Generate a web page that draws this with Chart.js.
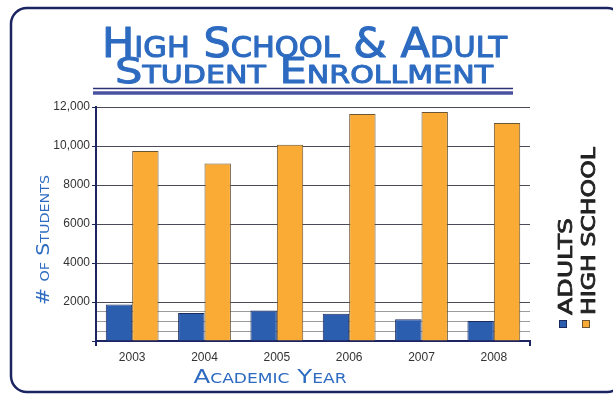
<!DOCTYPE html>
<html>
<head>
<meta charset="utf-8">
<script src="https://cdn.jsdelivr.net/npm/chart.js@4.4.1/dist/chart.umd.min.js"></script>
<style>
  html, body { margin: 0; padding: 0; background: #ffffff; }
  canvas { display: block; }
</style>
</head>
<body>
<canvas id="enrollChart" width="613" height="396"></canvas>
<script>
// enrollment by academic year
const years = ["2003", "2004", "2005", "2006", "2007", "2008"];
const adults = [1870, 1440, 1560, 1400, 1110, 1030];
const highSchool = [9750, 9100, 10070, 11640, 11740, 11180];
const seriesNames = ["ADULTS", "HIGH SCHOOL"];

// y ticks: light lines every 500 up to 2000, then every 2000
const yTickValues = [0, 500, 1000, 1500, 2000, 4000, 6000, 8000, 10000, 12000];
const yTickLabels = ["", "", "", "", "2000", "4000", "6000", "8000", "10,000", "12,000"];

const navy = "#1d2462";
const titleBlue = "#2d6bc1";
const comicFont = "'DejaVu Sans', 'Noto Sans', sans-serif";

// draw text squeezed/stretched to a given length, optionally thickened with a stroke
function fitText(ctx, text, x, y, len, font, color, angle, align, thick) {
    ctx.save();
    ctx.font = font;
    ctx.fillStyle = color;
    ctx.strokeStyle = color;
    ctx.textAlign = align || "center";
    ctx.textBaseline = "alphabetic";
    ctx.translate(x, y);
    ctx.rotate(angle || 0);
    const w = ctx.measureText(text).width;
    ctx.scale(len / w, 1);
    ctx.fillText(text, 0, 0);
    if (thick) {
        ctx.lineWidth = thick;
        ctx.lineJoin = "round";
        ctx.strokeText(text, 0, 0);
    }
    ctx.restore();
}

const cardPlugin = {
    id: "card",
    beforeDraw(chart) {
        const ctx = chart.ctx;
        ctx.save();
        ctx.fillStyle = "#ffffff";
        ctx.fillRect(0, 0, chart.width, chart.height);
        ctx.beginPath();
        ctx.roundRect(11, 8, 612, 384, 16);
        ctx.lineWidth = 2.5;
        ctx.strokeStyle = navy;
        ctx.stroke();
        ctx.restore();
    },
    afterDraw(chart) {
        const ctx = chart.ctx;
        // heading
        fitText(ctx, "High School & Adult", 304.5, 57, 405, "small-caps 41px " + comicFont, titleBlue, 0, "center", 1.1);
        fitText(ctx, "Student Enrollment", 304, 83, 378, "small-caps 36px " + comicFont, titleBlue, 0, "center", 1.0);
        ctx.save();
        ctx.strokeStyle = "#2b3278";
        ctx.lineWidth = 1.5;
        ctx.beginPath();
        ctx.moveTo(93, 88.5);
        ctx.lineTo(513, 88.5);
        ctx.stroke();
        ctx.strokeStyle = "#4a52a0";
        ctx.lineWidth = 3.5;
        ctx.beginPath();
        ctx.moveTo(93, 93);
        ctx.lineTo(513, 93);
        ctx.stroke();
        ctx.restore();

        // axis titles
        fitText(ctx, "# of Students", 49, 240, 130, "small-caps 17px " + comicFont, titleBlue, -Math.PI / 2, "center");
        fitText(ctx, "Academic Year", 270, 383, 153, "small-caps 20px " + comicFont, titleBlue, 0, "center");

        // vertical legend
        const cols = [572, 595];
        const lens = [97, 168];
        chart.data.datasets.forEach((ds, i) => {
            const bx = cols[i];
            ctx.save();
            ctx.fillStyle = ds.backgroundColor;
            ctx.strokeStyle = ds.borderColor;
            ctx.lineWidth = 1;
            ctx.fillRect(bx - 13, 320, 8, 8);
            ctx.strokeRect(bx - 13 + 0.5, 320.5, 7, 7);
            ctx.restore();
            fitText(ctx, ds.label, bx, 315, lens[i], "19px " + comicFont, "#222222", -Math.PI / 2, "left", 0.8);
        });
    }
};

const ctx = document.getElementById("enrollChart").getContext("2d");
new Chart(ctx, {
    type: "bar",
    data: {
        labels: years,
        datasets: [
            {
                label: seriesNames[0],
                data: adults,
                backgroundColor: "#2c5eaf",
                borderColor: "#1b2a5c",
                borderWidth: 1
            },
            {
                label: seriesNames[1],
                data: highSchool,
                backgroundColor: "#faab36",
                borderColor: "#6a5634",
                borderWidth: 1
            }
        ]
    },
    options: {
        responsive: false,
        animation: false,
        layout: { padding: { left: 0, right: 83, top: 107, bottom: 0 } },
        plugins: {
            legend: { display: false },
            tooltip: { enabled: false }
        },
        datasets: {
            bar: { categoryPercentage: 0.73, barPercentage: 1.0 }
        },
        scales: {
            x: {
                afterFit: s => { s.height = 55; },
                grid: {
                    drawOnChartArea: false,
                    tickLength: 5,
                    lineWidth: 2,
                    tickColor: c => (c.index === 0 || c.index === undefined) ? navy : "rgba(0,0,0,0)"
                },
                border: { color: navy, width: 2 },
                ticks: {
                    padding: 4,
                    color: "#333333",
                    font: { family: "'Liberation Sans', Arial, sans-serif", size: 12 }
                }
            },
            y: {
                min: 0,
                max: 12000,
                afterFit: s => { s.width = 96; },
                afterBuildTicks: s => { s.ticks = yTickValues.map(v => ({ value: v })); },
                grid: {
                    tickLength: 4,
                    color: c => {
                        if (c.tick.value === 0) return "rgba(0,0,0,0)";
                        return c.tick.value < 2000 ? "#9c9c9c" : "#4a4a58";
                    },
                    tickColor: c => c.tick.value >= 2000 || c.tick.value === 0 ? navy : "rgba(0,0,0,0)"
                },
                border: { color: navy, width: 2 },
                ticks: {
                    autoSkip: false,
                    padding: 2,
                    color: "#333333",
                    font: { family: "'Liberation Sans', Arial, sans-serif", size: 12 },
                    callback: (v, i) => yTickLabels[i]
                }
            }
        }
    },
    plugins: [cardPlugin]
});
</script>
</body>
</html>
